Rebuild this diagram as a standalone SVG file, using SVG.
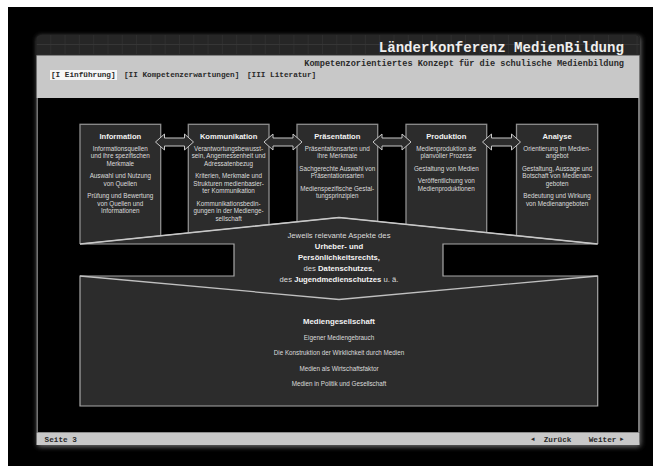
<svg xmlns="http://www.w3.org/2000/svg" width="653" height="466" viewBox="0 0 653 466">
<defs>
<style>
.mono{font-family:"Liberation Mono","Courier New",monospace;}
.sans{font-family:"Liberation Sans",Arial,sans-serif;}
.ttl{font-size:7.6px;font-weight:bold;fill:#f2f2f2;text-anchor:middle;}
.bd{font-size:6.3px;fill:#dcdcdc;text-anchor:middle;}
.box{fill:#2c2c2c;stroke:#8e8e8e;stroke-width:1.3;}
.dbl{fill:#2c2c2c;stroke:#c8c8c8;stroke-width:1;}
.mid{font-size:7.7px;fill:#dcdcdc;text-anchor:middle;}
.b{font-weight:bold;fill:#f4f4f4;}
.nav{font-size:7.7px;font-weight:bold;fill:#2a2a2a;}
</style>
<pattern id="grid" x="36" y="35" width="14.3" height="10" patternUnits="userSpaceOnUse">
<rect width="14.3" height="10" fill="#262626"/>
<path d="M0 0V10M0 9.5H14.3" stroke="#363636" stroke-width="1"/>
</pattern>
<filter id="shadow" x="-5%" y="-5%" width="110%" height="110%">
<feGaussianBlur stdDeviation="2.5"/>
</filter>
<clipPath id="above">
<path d="M0 0H653V244H597.7L339 217.5L80 244H0Z"/>
</clipPath>
</defs>
<rect width="653" height="466" fill="#ffffff"/>
<rect x="8" y="7" width="645" height="459" fill="#000000"/>

<g id="panel">
<rect x="37" y="36" width="604" height="411" rx="4" fill="#6a6a6a" filter="url(#shadow)"/>
<rect x="36.5" y="35" width="603" height="410" rx="4" fill="#000"/>
<line x1="37.2" y1="98" x2="37.2" y2="432" stroke="#7a7a7a" stroke-width="1.5"/>
<line x1="639" y1="98" x2="639" y2="432" stroke="#7a7a7a" stroke-width="2"/>
<path d="M36.5 55V39a4 4 0 0 1 4-4H635.5a4 4 0 0 1 4 4V55Z" fill="url(#grid)"/>
<rect x="36.5" y="55" width="603" height="43" fill="#c8c8c8"/>
<line x1="36.5" y1="55" x2="639.5" y2="55" stroke="#1a1a1a" stroke-width="0.8"/>
<text class="mono" x="624" y="51.5" font-size="14.1" font-weight="bold" fill="#eeeeee" text-anchor="end">Länderkonferenz MedienBildung</text>
<text class="mono" x="624" y="65.5" font-size="8.6" font-weight="bold" fill="#2a2a2a" text-anchor="end">Kompetenzorientiertes Konzept für die schulische Medienbildung</text>
<rect x="50" y="70" width="67" height="10" fill="#f6f6f6"/>
<text class="mono nav" x="51" y="77.3">[I Einführung]</text>
<text class="mono nav" x="124" y="77.3">[II Kompetenzerwartungen]</text>
<text class="mono nav" x="247" y="77.3">[III Literatur]</text>
<rect x="36.5" y="432.3" width="603" height="12.7" fill="#c8c8c8"/>
<text class="mono nav" x="44.6" y="441.5">Seite 3</text>
<text class="mono" x="531" y="441.2" font-size="6" fill="#2a2a2a">◄</text>
<text class="mono nav" x="543.7" y="441.5">Zurück</text>
<text class="mono nav" x="588.7" y="441.5">Weiter</text>
<text class="mono" x="620" y="441.2" font-size="6" fill="#2a2a2a">►</text>
</g>

<g id="information">
<rect class="box" x="80" y="124.3" width="80.7" height="125" clip-path="url(#above)"/>
<text class="sans ttl" x="120.3" y="139">Information</text>
<text class="sans bd" x="120.3" y="150.5">Informationsquellen</text>
<text class="sans bd" x="120.3" y="158.1">und ihre spezifischen</text>
<text class="sans bd" x="120.3" y="165.7">Merkmale</text>
<text class="sans bd" x="120.3" y="178.1">Auswahl und Nutzung</text>
<text class="sans bd" x="120.3" y="185.7">von Quellen</text>
<text class="sans bd" x="120.3" y="198.1">Prüfung und Bewertung</text>
<text class="sans bd" x="120.3" y="205.7">von Quellen und</text>
<text class="sans bd" x="120.3" y="213.3">Informationen</text>
</g>

<g id="kommunikation">
<rect class="box" x="188.3" y="124.3" width="80.7" height="125" clip-path="url(#above)"/>
<text class="sans ttl" x="228.6" y="139">Kommunikation</text>
<text class="sans bd" x="228.6" y="150.5">Verantwortungsbewusst-</text>
<text class="sans bd" x="228.6" y="158.1">sein, Angemessenheit und</text>
<text class="sans bd" x="228.6" y="165.7">Adressatenbezug</text>
<text class="sans bd" x="228.6" y="178.1">Kriterien, Merkmale und</text>
<text class="sans bd" x="228.6" y="185.7">Strukturen medienbasier-</text>
<text class="sans bd" x="228.6" y="193.3">ter Kommunikation</text>
<text class="sans bd" x="228.6" y="205.7">Kommunikationsbedin-</text>
<text class="sans bd" x="228.6" y="213.3">gungen in der Medienge-</text>
<text class="sans bd" x="228.6" y="220.9">sellschaft</text>
</g>

<g id="praesentation">
<rect class="box" x="297" y="124.3" width="80.7" height="125" clip-path="url(#above)"/>
<text class="sans ttl" x="337.3" y="139">Präsentation</text>
<text class="sans bd" x="337.3" y="150.5">Präsentationsarten und</text>
<text class="sans bd" x="337.3" y="158.1">ihre Merkmale</text>
<text class="sans bd" x="337.3" y="170.5">Sachgerechte Auswahl von</text>
<text class="sans bd" x="337.3" y="178.1">Präsentationsarten</text>
<text class="sans bd" x="337.3" y="190.5">Medienspezifische Gestal-</text>
<text class="sans bd" x="337.3" y="198.1">tungsprinzipien</text>
</g>

<g id="produktion">
<rect class="box" x="406" y="124.3" width="80.7" height="125" clip-path="url(#above)"/>
<text class="sans ttl" x="446.3" y="139">Produktion</text>
<text class="sans bd" x="446.3" y="150.5">Medienproduktion als</text>
<text class="sans bd" x="446.3" y="158.1">planvoller Prozess</text>
<text class="sans bd" x="446.3" y="170.5">Gestaltung von Medien</text>
<text class="sans bd" x="446.3" y="182.9">Veröffentlichung von</text>
<text class="sans bd" x="446.3" y="190.5">Medienproduktionen</text>
</g>

<g id="analyse">
<rect class="box" x="516.5" y="124.3" width="81.2" height="125" clip-path="url(#above)"/>
<text class="sans ttl" x="557.1" y="139">Analyse</text>
<text class="sans bd" x="557.1" y="150.5">Orientierung im Medien-</text>
<text class="sans bd" x="557.1" y="158.1">angebot</text>
<text class="sans bd" x="557.1" y="170.5">Gestaltung, Aussage und</text>
<text class="sans bd" x="557.1" y="178.1">Botschaft von Medienan-</text>
<text class="sans bd" x="557.1" y="185.7">geboten</text>
<text class="sans bd" x="557.1" y="198.1">Bedeutung und Wirkung</text>
<text class="sans bd" x="557.1" y="205.7">von Medienangeboten</text>
</g>

<g id="connectors">
<path class="dbl" d="M155.5 142L164.5 134V138H184.5V134L193.5 142L184.5 150V146H164.5V150Z"/>
<path class="dbl" d="M264 142L273 134V138H293V134L302 142L293 150V146H273V150Z"/>
<path class="dbl" d="M373 142L382 134V138H402V134L411 142L402 150V146H382V150Z"/>
<path class="dbl" d="M482.5 142L491.5 134V138H511.5V134L520.5 142L511.5 150V146H491.5V150Z"/>
</g>

<g id="rechte">
<path d="M80 244L339 217.5L597.7 244H443V276H597.7V406H80V276H234V244Z" fill="#2c2c2c" stroke="#a8a8a8" stroke-width="1.2"/>
<path d="M80 244L339 217.5L597.7 244" fill="none" stroke="#c8c8c8" stroke-width="1.4"/>
<path d="M80 276L339 299.5L597.7 276" fill="none" stroke="#c0c0c0" stroke-width="1.3"/>
<text class="sans mid" x="339" y="238">Jeweils relevante Aspekte des</text>
<text class="sans mid b" x="339" y="249">Urheber- und</text>
<text class="sans mid b" x="339" y="260">Persönlichkeitsrechts,</text>
<text class="sans mid" x="339" y="271">des <tspan class="b">Datenschutzes</tspan>,</text>
<text class="sans mid" x="339" y="282">des <tspan class="b">Jugendmedienschutzes</tspan> u. ä.</text>
</g>

<g id="mediengesellschaft">
<text class="sans" x="339" y="323.8" font-size="7.8" font-weight="bold" fill="#f2f2f2" text-anchor="middle">Mediengesellschaft</text>
<text class="sans bd" x="339" y="339.6">Eigener Mediengebrauch</text>
<text class="sans bd" x="339" y="355.1">Die Konstruktion der Wirklichkeit durch Medien</text>
<text class="sans bd" x="339" y="370.6">Medien als Wirtschaftsfaktor</text>
<text class="sans bd" x="339" y="386.1">Medien in Politik und Gesellschaft</text>
</g>
</svg>
